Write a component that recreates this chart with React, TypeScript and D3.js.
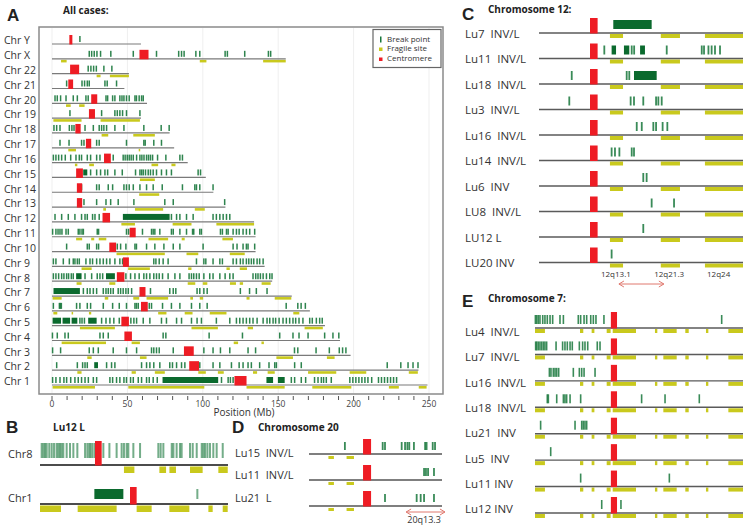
import React from "react";
import * as d3 from "d3";

// ---------- panel A: all cases (Mb) ----------
const chrNames = ["Y", "X", "22", "21", "20", "19", "18", "17", "16", "15", "14", "13", "12", "11", "10", "9", "8", "7", "6", "5", "4", "3", "2", "1"];
const chrLengths = [59, 155, 51, 48, 63, 59, 78, 81, 90, 102, 107, 115, 134, 135, 135, 141, 146, 159, 171, 181, 191, 198, 243, 249];
const centromeresA = [
  [11.5, 13.5], [58, 64], [12, 18], [10.8, 14], [26, 30], [24.5, 28.5], [15.5, 19], [22.5, 26], [34.5, 39], [16, 20.5], [16.5, 20], [16.5, 20],
  [33.5, 38.5], [51.5, 55.5], [38, 42.5], [47, 51], [43, 48], [58, 62], [59, 63.5], [46, 51], [48, 53], [87.5, 94], [91, 97.5], [121, 129],
];
const breaksA = [
  [18.5],
  [24.7, 26.3, 28, 29.8, 32.2, 39, 53.9, 69.3, 84, 85.9, 87.6, 95.4, 98, 114.8, 116.3, 127.8, 143.5, 145],
  [24, 25.8, 27.6, 29.4, 34.4, 39.7],
  [9.7, 19.9, 21.6, 23.4, 24.7, 35.1, 36.6, 42.8],
  [2, 3.5, 5.7, 9.3, 14.1, 16.8, 22.5, 24, 35.8, 36.9, 40.2, 41.7, 45, 46.4, 47.7, 49.4, 51.2, 55, 56, 57.8, 59.4, 60.5],
  [11.9, 32.9, 41.7, 43.3, 45, 46.8, 49.4, 58.3],
  [1.3, 3.1, 5.3, 11.5, 13.2, 14.6, 21.9, 27.4, 31.3, 32.9, 34.4, 36.2, 41.7, 47.7, 60.9, 72.4, 77.7],
  [5.3, 11.3, 19.6, 21.2, 29.6, 31.3, 49.4, 60.9, 61.8, 67.5, 72.6],
  [0.9, 2.6, 4.4, 6.4, 8.8, 12.4, 15.9, 18.1, 19.6, 23.4, 25.6, 29.6, 31.8, 40.6, 47.2, 48.5, 49.9, 51.2, 52.5, 53.9, 56.1, 58.3, 59.6, 61, 62.7, 64, 65.3, 66.7, 70, 75.5, 84.8, 86.5],
  [25.6, 29.6, 32.2, 35.1, 36.9, 41.7, 46.6, 55.4, 58.3, 59.4, 60.5, 62, 63.8, 65.3, 67.1, 69.3, 72.6, 75.9, 79.2, 96.9, 98.5],
  [19.6, 29.6, 31.3, 37.3, 40.2, 47.7, 49.4, 51.2, 53.9, 58.3, 62.7, 67.1, 73.1, 86.5, 94.7, 95.8, 98, 106.8],
  [21.2, 29.6, 35.8, 38.9, 43.9, 54.3, 74.8, 80.4, 114.5],
  [2, 6.4, 10.8, 15.2, 19.6, 21.9, 23.4, 26.9, 28.5, 31.3, 79.2, 82.6, 84.8, 89.2, 93.6, 106.8, 109, 111.3, 113.5, 115.7, 117.9],
  [0.4, 2.6, 4, 5.3, 6.6, 9.3, 10.8, 17.4, 18.5, 19.9, 20.8, 30, 30.9, 49.4, 50.8, 60, 66, 67.1, 68.2, 71.5, 79.2, 80.4, 84.8, 89.2, 93.2, 94, 98, 99.1, 111.7, 113, 115.7, 116.8, 120.1, 122.3, 124.1, 126.7, 128.9, 131.1, 134.4],
  [9.7, 23.4, 24.7, 29.6, 30.9, 43.3, 45.5, 49, 55, 56, 62.7, 68.2, 74.2, 80.4, 84.8, 100.2, 120.1, 122.7, 126.7, 128.9, 130, 134.4],
  [0.9, 2.6, 7.5, 11.5, 14.1, 15.2, 16.8, 18.1, 22.5, 25.2, 26.9, 29.6, 31.8, 34, 36.2, 38.4, 41.7, 45, 46.8, 67.5, 68.9, 71.1, 73.7, 77, 95.8, 100.7, 102, 106.8, 111.3, 113, 120.1, 122.3, 124.9, 126.7, 128.9, 130.5, 132.2, 133.8, 136, 137.7, 140],
  [0.9, 2.6, 4.4, 6.4, 7.9, 9.7, 11, 12.8, 14.1, 21.9, 26.3, 30, 31.8, 33.6, 49, 52.1, 55, 57.8, 60.9, 62.7, 64.9, 67.5, 69.3, 71.1, 73.3, 77, 81.5, 84.8, 90.9, 92.5, 94, 95.8, 97.6, 100.7, 104.6, 106.8, 111.3, 114.8, 117.9, 120.1, 133.3, 135.1, 136.6, 138.2, 140, 142.2, 144.4, 145.9],
  [20.8, 23.4, 25.2, 27.4, 29.6, 34, 35.8, 37.3, 38.9, 40.6, 43.9, 45.5, 47.2, 49, 50.6, 52.8, 65.3, 78.1, 80.4, 82.1, 96.2, 98, 100.7, 102.9, 124.9, 131, 135.5, 142.6],
  [0.9, 4.9, 5.5, 6.2, 16.3, 18.5, 23.4, 25.6, 34, 40.2, 44.6, 49.4, 55, 56, 57.2, 64.5, 66, 73.3, 79.2, 84.8, 92.5, 98, 102.9, 155.3, 163, 165.2, 168],
  [18.5, 19.9, 21.5, 32.9, 35.8, 38.4, 41, 44.6, 52.3, 54.3, 56.1, 60.5, 64.9, 72.6, 75.9, 82.6, 85.9, 92.5, 96.2, 99.1, 109, 117.9, 122.3, 124.5, 126.7, 128.9, 131.1, 133.3, 136, 140, 142.6, 144.4, 146.6, 148.3, 150.6, 153.2, 155.4, 157.6, 159.8, 161.6, 163.8, 166.4, 170.9, 172.6, 175.3, 177.5, 179.2],
  [0.3, 3.5, 8.6, 10.8, 31.8, 34, 37.3, 73.7, 75.5, 104.2, 126.3, 151, 159.8, 163.8, 169.8, 180.8, 186.3, 190.2],
  [0.4, 5.7, 24.7, 27.4, 30.7, 40.6, 49.4, 56.1, 66, 67.5, 69.3, 71.1, 80.4, 100.7, 106.8, 111.7, 117.9, 130, 135, 160.8, 163, 175.1, 183.9, 190.5, 192.7, 194.9],
  [3.1, 16.8, 20.3, 21.9, 23.4, 36.2, 39.5, 41.7, 59.4, 62.7, 64.9, 67.5, 71.5, 78.1, 79.9, 82.6, 85.9, 88.1, 98, 106.8, 111.3, 119, 124.1, 126.7, 130, 132.2, 137.7, 143.9, 147.7, 148.8, 160.9, 165.3, 222.3, 231.3, 236.1, 239.4, 242.7],
  [0.4, 2.6, 5.3, 7.9, 9.7, 12.4, 15.2, 17.4, 19.6, 21.9, 24.1, 27.4, 29.6, 38.4, 40.2, 42.8, 45, 47.7, 49.4, 52.1, 53.9, 57.2, 59.4, 62.7, 64.5, 67.1, 69.8, 112.4, 116.8, 118.3, 120.1, 158.7, 160.9, 165.3, 168.2, 174.1, 176.4, 178.6, 180.1, 181.9, 185.2, 197.5, 199.5, 201.5, 203.5, 205.5, 207.5, 209.5, 212, 216.5, 218.5, 220.5, 222.5, 224.5, 226.5, 228.5],
];
// dense clusters of break points drawn as solid runs
const blocksA = [
  [], [], [], [], [], [], [], [], [], [[20.7, 23.4]], [], [], [[47, 78]], [], [], [], [[16, 19.6], [35.8, 41.7]], [[1, 18.5]], [], [[0.4, 6], [7, 12], [13, 16.8], [24, 29.6]], [], [], [[28, 30.5]], [[73.3, 110.2], [142.2, 146.6], [149.8, 154.3]],
];
const fragileA = [
  [],
  [[6, 9.7], [98, 102.4], [140, 155]],
  [[29.6, 32.2], [38.4, 51]],
  [],
  [[9.3, 12.4], [18, 21.6]],
  [[0.9, 19.6], [32.2, 58.3]],
  [[32.9, 37.3], [53.9, 68.2]],
  [[10.8, 15.9], [57.5, 58.2]],
  [[15.2, 16.8], [24.7, 27.8], [66, 70.4], [79.2, 81.9]],
  [[58.3, 68.2]],
  [[57.8, 71.1]],
  [[34, 35.8], [55, 73.7], [94.7, 101.3]],
  [[46, 55], [80, 92.5], [109, 134]],
  [[16, 20], [26, 28], [31, 36], [64, 77], [86, 88], [113, 120]],
  [[42.8, 74.8], [89.2, 97], [117.9, 127.8]],
  [[19.6, 26.3], [50.5, 64.9], [90.3, 92.5], [115.7, 117.9], [124.5, 129.3]],
  [[16.3, 19.6], [38, 42], [90, 95], [100, 103], [118, 122], [124.5, 126.7], [139, 145]],
  [[0.4, 6.4], [35, 37.3], [53.9, 57.8], [62.7, 77], [91.7, 93.5], [98, 100.2], [129, 131], [147.7, 158.7]],
  [[0.9, 3.5], [13, 14], [24.5, 26], [70.4, 75.9], [88, 93.2], [104.6, 115.7], [160, 164]],
  [[18.5, 41.7], [92.5, 110], [129.8, 133.3], [167.5, 179.6]],
  [[6.4, 35.8], [52.8, 58.3], [120.5, 123.4], [138.9, 140.5]],
  [[23.4, 26.3], [58.3, 62.7], [148.8, 159.8], [182.3, 187.4]],
  [[16.8, 19.6], [52.8, 55.6], [68.2, 74.8], [97, 102], [110, 113.9], [133.3, 136], [143, 147.7], [169.8, 188.5], [197.4, 208.4], [236.6, 242.6]],
  [[0.4, 28.5], [50.6, 101], [129, 154.3], [172.6, 198.5], [223.4, 230], [243.2, 248.4]],
];
const axisTicksA = [0, 50, 100, 150, 200, 250];
const legendItems = ["Break point", "Fragile site", "Centromere"];

// ---------- panel B: Lu12 L ----------
const chrLabelsB = ["Chr8", "Chr1"];
const lengthsB = [146, 249];
const centromeresB = [[42.7, 47.9], [119.2, 128]];
const breaksB = [
  [1.3, 2.6, 3.9, 5.2, 7.2, 9.1, 10.9, 12.9, 14.2, 15.5, 16.8, 18.1, 20.7, 23.3, 25.9, 29, 35, 36.8, 38.3, 39.4, 40.9, 42.7, 49.2, 53.9, 59.5, 63.4, 65.2, 67.3, 68.6, 72.5, 77.7, 91.9, 93.7, 95.8, 102.3, 103.6, 106.1, 108.7, 110, 116.5, 118.6, 121.7, 125.6, 126.9, 128.2, 130, 132, 134.6, 137.2, 141.9],
  [208.4],
];
const blocksB = [[], [[72, 110.4]]];
const fragileB = [
  [[65.2, 73.3], [92.7, 97.9], [100.5, 105.6], [116.5, 126.3], [138.5, 145.8]],
  [[0, 27.8], [49.9, 101.5], [128, 147.9], [171.3, 197.8], [223, 228.7], [242, 248.6]],
];

// ---------- panel C: chromosome 12 ----------
const samplesC = ["Lu7  INV/L", "Lu11  INV/L", "Lu18  INV/L", "Lu3  INV/L", "Lu16  INV/L", "Lu14  INV/L", "Lu6  INV", "LU8  INV/L", "LU12 L", "LU20 INV"];
const breaksC = [
  [],
  [42.9, 60.9, 62.5, 83.9, 106.9, 108.4, 111.3, 113.4, 115.6, 118.9],
  [21.5, 57.6, 59.3],
  [19.9, 60.2, 62.4, 68.5, 76.9, 78.4, 80.6],
  [64.2, 67.5, 75.1, 76.9, 81.2, 84.3],
  [47.7, 49.9, 52.8, 60.9, 62.4],
  [68.5, 70.7],
  [74, 88.7],
  [68.5],
  [47.7],
];
const blocksC = [[[48.8, 74]], [[47.7, 50.6], [55.8, 59.3], [66.4, 69.6]], [[62.4, 77.3]], [], [], [], [], [], [], []];
const centromereC = [33.5, 38.5];
const fragileC = [[46.6, 55.2], [80, 92.6], [109, 134]];
const bandNamesC = ["12q13.1", "12q21.3", "12q24"];
const bandPosC = [50.5, 85.5, 118];
const arrowC = [52.5, 82];

// ---------- panel D: chromosome 20 ----------
const samplesD = ["Lu15  INV/L", "Lu11  INV/L", "Lu21  L"];
const breaksD = [
  [17, 34.9, 36, 43.9, 45.5, 46.6, 47.5, 49.7, 55, 55.7, 58.6, 59.7],
  [54.5, 55.4, 56.4, 59.2],
  [36, 51, 52.9, 54.5, 59.2],
];
const centromereD = [25.6, 29.4];
const fragileD = [[9.2, 11.8], [17.8, 21.3]];
const arrowD = [46, 64.4];

// ---------- panel E: chromosome 7 ----------
const samplesE = ["Lu4  INV/L", "Lu7  INV/L", "Lu16  INV/L", "Lu18  INV/L", "Lu21  INV", "Lu5  INV", "Lu11 INV", "Lu12 INV"];
const breaksE = [
  [0.3, 1.3, 2.5, 3.8, 5.9, 7.6, 9.4, 11.5, 13.5, 19.1, 21.7, 33.1, 34.9, 37.5, 39.5, 42.6, 44.6, 46.6, 52.7, 142.7],
  [0.5, 1.3, 2.5, 3.8, 5.1, 6.4, 7.6, 8.9, 16.1, 21.1, 22.9, 24.7, 26.8, 28.5, 33.9, 36.4, 38.2, 40.3, 47.6, 49.7],
  [11, 12.2, 14, 15.3, 16.6, 18.1, 29.3, 33.9, 35.7, 37.5, 45.9],
  [9.4, 10.2, 16.6, 21.7, 22.9, 24.2, 26.8, 34.9, 81.5, 99.4, 125.6],
  [4.3, 30.6, 35.7, 36.9, 38.2, 39.5],
  [12],
  [34.9, 102.7],
  [51, 65.7],
];
const centromereE = [58, 62.7];
const fragileE = [[0, 7.6], [34.4, 36.9], [43.3, 45.4], [54.8, 57.8], [59.4, 77.2], [91.7, 93.5], [98.1, 108.3], [114.9, 117.5], [130.7, 132.5], [147.8, 159]];

const GREEN = "#17773b";
const DARK = "#0b6a2e";
const YELLOW = "#c9c91d";
const RED = "#ee1c24";
const FONT = "'Open Sans', 'DejaVu Sans', sans-serif";
const BOLD = "'Liberation Sans', Arial, sans-serif";

type TrackProps = {
  x: d3.ScaleLinear<number, number>;
  y: number;
  length: number;
  ticks: number[];
  blocks: number[][];
  fragile: number[][];
  cen: number[];
  tick: [number, number];
  tickW: number;
  cenTop: number;
  frag: [number, number];
  lineColor: string;
  lineW: number;
  tickOpacity: number;
};

function Track(p: TrackProps) {
  const { x, y } = p;
  return (
    <g>
      {p.fragile.map((f, i) => (
        <rect key={"f" + i} x={x(f[0])} width={Math.max(1.5, x(f[1]) - x(f[0]))} y={y + p.frag[0]} height={p.frag[1] - p.frag[0]} fill={YELLOW} />
      ))}
      <line x1={x(0)} x2={x(p.length)} y1={y} y2={y} stroke={p.lineColor} strokeWidth={p.lineW} />
      {p.blocks.map((b, i) => (
        <rect key={"b" + i} x={x(b[0])} width={x(b[1]) - x(b[0])} y={y - p.tick[0]} height={p.tick[0] - p.tick[1]} fill={DARK} />
      ))}
      {p.ticks.map((t, i) => (
        <rect key={"t" + i} x={x(t) - p.tickW / 2} width={p.tickW} y={y - p.tick[0]} height={p.tick[0] - p.tick[1]} fill={GREEN} opacity={p.tickOpacity} />
      ))}
      <rect x={x(p.cen[0])} width={x(p.cen[1]) - x(p.cen[0])} y={y - p.cenTop} height={p.cenTop + 0.5} fill={RED} />
    </g>
  );
}

function DoubleArrow({ x1, x2, y }: { x1: number; x2: number; y: number }) {
  const c = "#e0786e";
  return (
    <g stroke={c} strokeWidth={1} fill="none">
      <line x1={x1} x2={x2} y1={y} y2={y} />
      <path d={`M${x1 + 5},${y - 3} L${x1},${y} L${x1 + 5},${y + 3}`} />
      <path d={`M${x2 - 5},${y - 3} L${x2},${y} L${x2 - 5},${y + 3}`} />
    </g>
  );
}

export default function App() {
  // panel A
  const xA = d3.scaleLinear().domain([0, 250]).range([52, 429]);
  const yA = d3.scaleLinear().domain([0, chrNames.length - 1]).range([44, 385]);
  const minorA = d3.range(0, 251, 10);

  // panel B — each chromosome over the full track width
  const xB = lengthsB.map((len) => d3.scaleLinear().domain([0, len]).range([40, 228]));
  const yB = [465, 504];
  const labelYB = [455, 499];

  // panel C
  const xC = d3.scaleLinear().domain([0, 134]).range([539, 743]);
  const yC = d3.scaleLinear().domain([0, samplesC.length - 1]).range([33, 262.5]);

  // panel D
  const xD = d3.scaleLinear().domain([0, 63]).range([309, 442]);
  const yD = [454, 480, 506];
  const labelYD = [454, 476.5, 499];

  // panel E
  const xE = d3.scaleLinear().domain([0, 159]).range([535, 743]);
  const yE = d3.scaleLinear().domain([0, samplesE.length - 1]).range([328, 513]);
  const labelYE = d3.scaleLinear().domain([0, samplesE.length - 1]).range([333, 510]);

  const letter = (t: string, x: number, y: number) => (
    <text x={x} y={y} fontFamily={BOLD} fontWeight="bold" fontSize={17} fill="#222">{t}</text>
  );
  const title = (t: string, x: number, y: number) => (
    <text x={x} y={y} fontFamily={FONT} fontWeight="bold" fontSize={10} fill="#222">{t}</text>
  );

  return (
    <div style={{ position: "absolute", left: 0, top: 0 }}>
      <svg width={750} height={531} style={{ display: "block", background: "#fff" }}>
        {/* ---------- A ---------- */}
        {letter("A", 7, 21)}
        {title("All cases:", 63, 14)}
        {axisTicksA.map((t) => (
          <line key={"g" + t} x1={xA(t)} x2={xA(t)} y1={28} y2={393} stroke="#efefef" strokeWidth={1} />
        ))}
        <rect x={39} y={27} width={404} height={367} fill="none" stroke="#8a8a8a" strokeWidth={1.5} />
        {chrNames.map((c, i) => (
          <g key={c}>
            <text x={4} y={yA(i) - 2.5} dominantBaseline="middle" fontFamily={FONT} fontSize={10.5} fill="#333">{"Chr " + c}</text>
            <Track x={xA} y={yA(i)} length={chrLengths[i]} ticks={breaksA[i]} blocks={blocksA[i]} fragile={fragileA[i]} cen={centromeresA[i]}
              tick={[8, 2]} tickW={1.5} cenTop={9} frag={[1, 3.6]} lineColor="#7a7a7a" lineW={1.2} tickOpacity={0.9} />
          </g>
        ))}
        {minorA.map((t) => (
          <line key={"m" + t} x1={xA(t)} x2={xA(t)} y1={396} y2={400} stroke="#555" strokeWidth={1} />
        ))}
        {axisTicksA.map((t) => (
          <text key={"l" + t} x={xA(t)} y={404.5} textAnchor="middle" dominantBaseline="middle" fontFamily={FONT} fontSize={8.5} fill="#444">{t}</text>
        ))}
        <text x={244} y={413} textAnchor="middle" dominantBaseline="middle" fontFamily={FONT} fontSize={10} fill="#333">Position (Mb)</text>
        {/* legend */}
        <rect x={373} y={29.5} width={68} height={38} fill="#fff" stroke="#666" strokeWidth={1.2} />
        {legendItems.map((t, i) => (
          <text key={t} x={387} y={39.5 + i * 9.8} dominantBaseline="middle" fontFamily={FONT} fontSize={8} fill="#333">{t}</text>
        ))}
        <rect x={380} y={36.5} width={1.5} height={6} fill={GREEN} />
        <rect x={379} y={47.5} width={3.5} height={3.5} fill={YELLOW} />
        <rect x={379} y={57.5} width={3.5} height={3.5} fill={RED} />

        {/* ---------- B ---------- */}
        {letter("B", 6, 433)}
        {title("Lu12 L", 53, 431)}
        {chrLabelsB.map((c, i) => (
          <g key={c}>
            <text x={8} y={labelYB[i]} dominantBaseline="middle" fontFamily={FONT} fontSize={11} fill="#333">{c}</text>
            <Track x={xB[i]} y={yB[i]} length={lengthsB[i]} ticks={breaksB[i]} blocks={blocksB[i]} fragile={fragileB[i]} cen={centromeresB[i]}
              tick={i === 0 ? [22, 7] : [15, 5]} tickW={2} cenTop={i === 0 ? 24 : 17} frag={[1.5, 8]} lineColor="#111" lineW={1.3} tickOpacity={0.6} />
          </g>
        ))}

        {/* ---------- D ---------- */}
        {letter("D", 232, 433)}
        {title("Chromosome 20", 258, 431)}
        {samplesD.map((s, i) => (
          <g key={s}>
            <text x={235} y={labelYD[i]} dominantBaseline="middle" fontFamily={FONT} fontSize={11} fill="#333" style={{ whiteSpace: "pre" }}>{s}</text>
            <Track x={xD} y={yD[i]} length={63} ticks={breaksD[i]} blocks={[]} fragile={fragileD} cen={centromereD}
              tick={[12, 4]} tickW={1.8} cenTop={15} frag={[2, 5]} lineColor="#555" lineW={1.3} tickOpacity={0.85} />
          </g>
        ))}
        <DoubleArrow x1={xD(arrowD[0])} x2={xD(arrowD[1])} y={512} />
        <text x={xD(54.5)} y={521} textAnchor="middle" dominantBaseline="middle" fontFamily={FONT} fontSize={9} fill="#333">20q13.3</text>

        {/* ---------- C ---------- */}
        {letter("C", 462, 20)}
        {title("Chromosome 12:", 488, 13)}
        {samplesC.map((s, i) => (
          <g key={s}>
            <text x={465} y={yC(i) + 1.5} dominantBaseline="middle" fontFamily={FONT} fontSize={11.5} fill="#333" style={{ whiteSpace: "pre" }}>{s}</text>
            <Track x={xC} y={yC(i)} length={134} ticks={breaksC[i]} blocks={blocksC[i]} fragile={fragileC} cen={centromereC}
              tick={[13, 4]} tickW={1.8} cenTop={15} frag={[1, 5]} lineColor="#5a5a5a" lineW={1.4} tickOpacity={0.85} />
          </g>
        ))}
        {bandNamesC.map((b, i) => (
          <text key={b} x={xC(bandPosC[i])} y={275} textAnchor="middle" dominantBaseline="middle" fontFamily={FONT} fontSize={8} fill="#333">{b}</text>
        ))}
        <DoubleArrow x1={xC(arrowC[0])} x2={xC(arrowC[1])} y={284} />

        {/* ---------- E ---------- */}
        {letter("E", 462, 307)}
        {title("Chromosome 7:", 488, 302)}
        {samplesE.map((s, i) => (
          <g key={s}>
            <text x={465} y={labelYE(i)} dominantBaseline="middle" fontFamily={FONT} fontSize={11.5} fill="#333" style={{ whiteSpace: "pre" }}>{s}</text>
            <Track x={xE} y={yE(i)} length={159} ticks={breaksE[i]} blocks={[]} fragile={fragileE} cen={centromereE}
              tick={[13, 4]} tickW={1.6} cenTop={16} frag={[1, 5]} lineColor="#5a5a5a" lineW={1.4} tickOpacity={0.85} />
          </g>
        ))}
      </svg>
    </div>
  );
}
